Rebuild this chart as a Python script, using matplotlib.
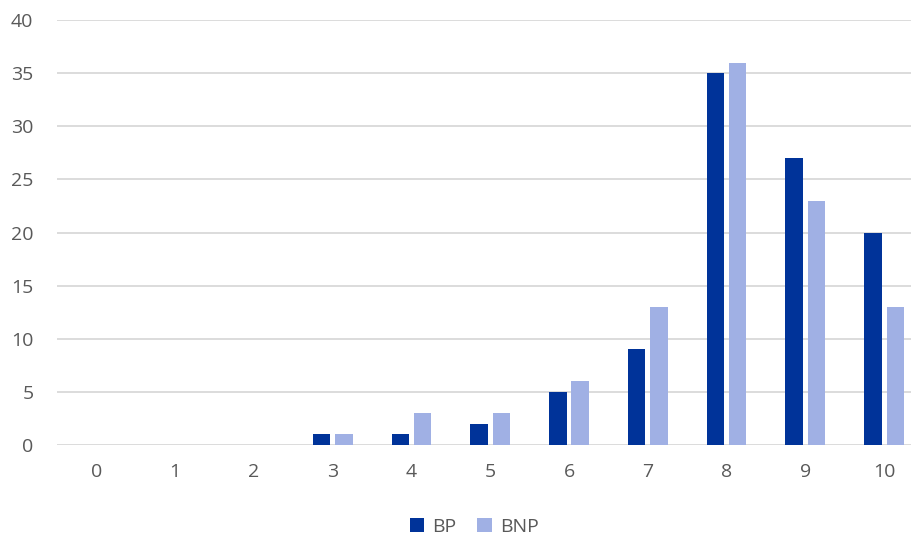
import numpy as np
import matplotlib.pyplot as plt

categories = [str(i) for i in range(11)]
bp = [0, 0, 0, 1, 1, 2, 5, 9, 35, 27, 20]
bnp = [0, 0, 0, 1, 3, 3, 6, 13, 36, 23, 13]

plt.rcParams['font.family'] = ['Open Sans', 'DejaVu Sans']

fig = plt.figure(figsize=(9.11, 5.39), dpi=100)
ax = fig.add_axes([57 / 911, 94 / 539, 866.5 / 911, 425 / 539])

x = np.arange(len(categories))
w = 0.222
ax.bar(x - 0.142, bp, width=w, color='#003399', label='BP', zorder=3)
ax.bar(x + 0.142, bnp, width=w, color='#A0B0E4', label='BNP', zorder=3)

ax.set_xlim(-0.5, 10.5)
ax.set_ylim(0, 40)
ax.set_yticks(range(0, 41, 5))
ax.set_xticks(x)
ax.set_xticklabels(categories)
ax.grid(axis='y', color='#D9D9D9', linewidth=1.3, zorder=0)
for s in ax.spines.values():
    s.set_visible(False)
ax.tick_params(length=0, colors='#595959', labelsize=14)
ax.tick_params(axis='x', pad=13)
ax.tick_params(axis='y', pad=17)

fig.legend(loc='center', bbox_to_anchor=(474 / 911, 1 - 527 / 539), ncol=2,
           frameon=False, fontsize=14, labelcolor='#595959',
           handlelength=0.75, handleheight=0.75, handletextpad=0.4, columnspacing=1.1)

fig.savefig('out.png', dpi=100)
